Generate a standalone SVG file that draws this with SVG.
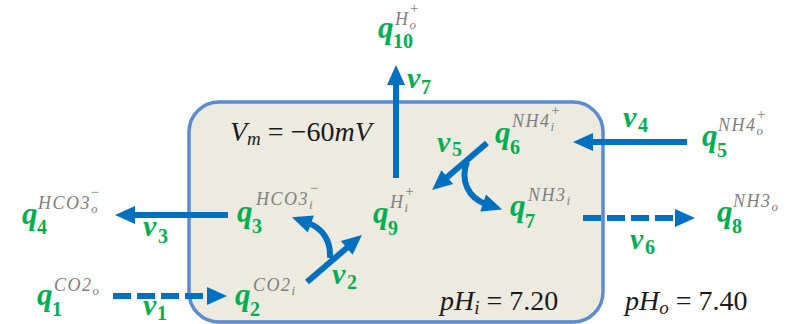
<svg xmlns="http://www.w3.org/2000/svg" width="798" height="324" viewBox="0 0 798 324">
<style>
.q{font-family:"Liberation Serif",serif;font-weight:bold;font-style:italic;font-size:31px;fill:#00B050}
.n{font-family:"Liberation Serif",serif;font-weight:bold;font-size:20px;fill:#00B050}
.v{font-family:"Liberation Serif",serif;font-weight:bold;font-style:italic;font-size:30px;fill:#00B050}
.s{font-family:"Liberation Serif",serif;font-style:italic;font-size:18px;fill:#7F7F7F;letter-spacing:1.5px}
.ss{font-size:13px;letter-spacing:0}
.sg{font-size:15px;font-style:normal;letter-spacing:0}
.t{font-family:"Liberation Serif",serif;font-size:28px;fill:#1a1a1a}
.ti{font-style:italic}
.ar{fill:none;stroke:#0070C0;stroke-width:6}
.da{stroke-dasharray:18 6}
</style>
<defs>
<marker id="ah" markerUnits="userSpaceOnUse" markerWidth="22" markerHeight="20" refX="3" refY="9" orient="auto" overflow="visible">
<path d="M0,0 L20,9 L0,18 z" fill="#0070C0"/>
</marker>
</defs>
<rect id="cell" x="189" y="102" width="414" height="220" rx="30" ry="30" fill="#EDEAE0" stroke="#5B8BD0" stroke-width="3.5"/>
<g id="connectors">
<path class="ar da" d="M113,296 L210,296" marker-end="url(#ah)"/>
<path class="ar" d="M228,215 L132,215" marker-end="url(#ah)"/>
<path class="ar da" d="M583,218 L678,218" marker-end="url(#ah)"/>
<path class="ar" d="M687,142 L590,142" marker-end="url(#ah)"/>
<path class="ar" d="M396,178 L396,82" marker-end="url(#ah)"/>
<path class="ar" d="M307,282 L349,246" marker-end="url(#ah)"/>
<path class="ar" d="M330,258 C331,240 322,228 308,223" marker-end="url(#ah)"/>
<path class="ar" d="M487,143 L445,179" marker-end="url(#ah)"/>
<path class="ar" d="M467,162 C460,180 468,198 486,204" marker-end="url(#ah)"/>
<text class="v" x="143" y="315">v</text><text class="n" x="157" y="320">1</text>
<text class="v" x="332" y="284">v</text><text class="n" x="347" y="289">2</text>
<text class="v" x="143" y="236">v</text><text class="n" x="158" y="243">3</text>
<text class="v" x="623" y="127">v</text><text class="n" x="638" y="132">4</text>
<text class="v" x="630" y="249">v</text><text class="n" x="645" y="254">6</text>
<text class="v" x="437" y="152">v</text><text class="n" x="452" y="156">5</text>
<text class="v" x="407" y="88">v</text><text class="n" x="421" y="94">7</text>
</g>
<g id="q1"><text class="q" x="37" y="305">q</text><text class="n" x="52" y="316">1</text><text class="s" x="54" y="291">CO2<tspan class="ss" dy="4">o</tspan></text></g>
<g id="q2"><text class="q" x="235" y="305">q</text><text class="n" x="250" y="316">2</text><text class="s" x="253" y="291">CO2<tspan class="ss" dy="4">i</tspan></text></g>
<g id="q3"><text class="q" x="237" y="222">q</text><text class="n" x="252" y="233">3</text><text class="s" x="256" y="205">HCO3<tspan class="ss" dy="4">i</tspan><tspan class="sg" dx="-3" dy="-16">−</tspan></text></g>
<g id="q4"><text class="q" x="22" y="224">q</text><text class="n" x="37" y="234">4</text><text class="s" x="38" y="209">HCO3<tspan class="ss" dy="4">o</tspan><tspan class="sg" dx="-7" dy="-16">−</tspan></text></g>
<g id="q5"><text class="q" x="702" y="146">q</text><text class="n" x="717" y="157">5</text><text class="s" x="718" y="131">NH4<tspan class="ss" dy="4">o</tspan><tspan class="sg" dx="-6" dy="-16">+</tspan></text></g>
<g id="q6"><text class="q" x="495" y="143">q</text><text class="n" x="510" y="154">6</text><text class="s" x="512" y="127">NH4<tspan class="ss" dy="4">i</tspan><tspan class="sg" dx="-3" dy="-16">+</tspan></text></g>
<g id="q7"><text class="q" x="510" y="216">q</text><text class="n" x="525" y="228">7</text><text class="s" x="528" y="201">NH3<tspan class="ss" dy="4">i</tspan></text></g>
<g id="q8"><text class="q" x="717" y="222">q</text><text class="n" x="732" y="233">8</text><text class="s" x="733" y="207">NH3<tspan class="ss" dy="4">o</tspan></text></g>
<g id="q9"><text class="q" x="373" y="223">q</text><text class="n" x="388" y="235">9</text><text class="s" x="390" y="208">H<tspan class="ss" dy="4">i</tspan><tspan class="sg" dx="-3" dy="-16">+</tspan></text></g>
<g id="q10"><text class="q" x="378" y="38">q</text><text class="n" x="393" y="48">10</text><text class="s" x="395" y="25">H<tspan class="ss" dy="4">o</tspan><tspan class="sg" dx="-6" dy="-16">+</tspan></text></g>
<g id="vm"><text class="t" x="230" y="141"><tspan class="ti">V</tspan><tspan class="ti" font-size="19" dy="4">m</tspan><tspan dy="-4" dx="7">=</tspan><tspan dx="7">−60</tspan><tspan class="ti">mV</tspan></text></g>
<g id="phi"><text class="t" x="440" y="310"><tspan class="ti">pH</tspan><tspan class="ti" font-size="19" dy="4">i</tspan><tspan dy="-4" dx="7">=</tspan><tspan dx="7">7.20</tspan></text></g>
<g id="pho"><text class="t" x="625" y="310"><tspan class="ti">pH</tspan><tspan class="ti" font-size="19" dy="4">o</tspan><tspan dy="-4" dx="7">=</tspan><tspan dx="7">7.40</tspan></text></g>
</svg>
